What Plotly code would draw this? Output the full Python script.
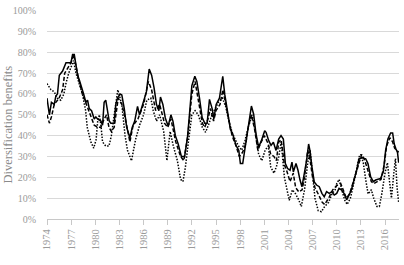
import plotly.graph_objects as go

# --- data (year, diversification benefit in %) ---
solid_years = [1974.0, 1974.3, 1974.55, 1974.9, 1975.1, 1975.3, 1975.53, 1975.94, 1976.36, 1976.77, 1976.98,
               1977.18, 1977.39, 1977.6, 1977.8, 1978.0, 1978.2, 1978.55, 1978.83, 1979.04, 1979.25, 1979.54,
               1979.87, 1980.07, 1980.28, 1980.7, 1980.9, 1981.1, 1981.3, 1981.5, 1981.73, 1981.93, 1982.35,
               1982.55, 1982.76, 1983.09, 1983.3, 1983.6, 1983.9, 1984.3, 1984.6, 1984.9, 1985.25, 1985.5,
               1985.95, 1986.35, 1986.7, 1987.0, 1987.3, 1987.6, 1987.9, 1988.1, 1988.4, 1988.7, 1989.05,
               1989.4, 1989.65, 1989.95, 1990.3, 1990.7, 1991.1, 1991.45, 1991.7, 1992.0, 1992.37, 1992.62,
               1992.95, 1993.28, 1993.6, 1993.9, 1994.19, 1994.52, 1994.73, 1995.02, 1995.43, 1995.84,
               1996.09, 1996.38, 1996.79, 1997.08, 1997.5, 1997.83, 1998.03, 1998.32, 1998.65, 1998.98,
               1999.4, 1999.68, 1999.97, 2000.3, 2000.64, 2001.05, 2001.22, 2001.55, 2001.84, 2002.13,
               2002.46, 2002.79, 2003.08, 2003.37, 2003.62, 2003.9, 2004.2, 2004.44, 2004.61, 2004.94,
               2005.19, 2005.44, 2005.68, 2005.97, 2006.26, 2006.51, 2006.67, 2006.92, 2007.21, 2007.5,
               2007.83, 2008.16, 2008.45, 2008.74, 2009.07, 2009.4, 2009.69, 2010.0, 2010.29, 2010.58,
               2010.91, 2011.24, 2011.53, 2011.82, 2012.15, 2012.48, 2012.77, 2013.18, 2013.6, 2013.88,
               2014.22, 2014.55, 2014.84, 2015.13, 2015.46, 2015.79, 2016.08, 2016.36, 2016.7, 2016.95,
               2017.15, 2017.35, 2017.55, 2017.7]
solid_vals = [58, 50, 56, 55, 59, 60, 69, 71, 75, 75, 75,
              79, 79, 74, 69, 67, 64, 60, 56, 57, 53, 52,
              48, 49, 48, 47, 45, 56, 57, 53, 47, 46, 46,
              55, 58, 60, 59.5, 53, 44, 39, 44, 47, 54, 50,
              56, 61, 72, 69, 63, 55, 52, 58.5, 55, 48.5, 44.6,
              50, 47, 40, 36, 30, 30, 39, 50, 64, 68.5, 66,
              58, 48.7, 46, 46, 57.4, 53, 48, 55, 58, 68.5,
              59.8, 53.4, 43, 40.8, 35.2, 33, 26.6, 26.6, 35.2, 45.5,
              54.2, 50.3, 40.8, 34.5, 37.6, 42.4, 41.6, 37.6, 35.3, 36.8,
              32.9, 38.4, 40, 38.4, 26.6, 24.2, 23.4, 27.3, 22.6, 26.6,
              23.4, 18.7, 15.5, 21.8, 28.1, 36, 32.9, 25, 17.8, 16.3,
              15.5, 12.3, 10.7, 13.1, 12.3, 13.1, 11.5, 12.3, 14.7, 14,
              12.3, 9.2, 11.5, 13.9, 18.7, 23.4, 28.9, 29.4, 28.9, 26.6,
              20.2, 17.9, 18.7, 19, 19.5, 22.6, 32.9, 38.4, 41.3, 41.3,
              36, 33.7, 32, 27]

dash_years = [1974.0, 1974.3, 1974.55, 1974.9, 1975.5, 1975.94, 1976.2, 1976.55, 1976.98, 1977.3, 1977.67,
              1978.0, 1978.4, 1978.8, 1979.25, 1979.66, 1979.87, 1980.3, 1980.7, 1981.1, 1981.4, 1981.7,
              1982.0, 1982.35, 1982.6, 1982.85, 1983.3, 1983.8, 1984.3, 1984.7, 1985.3, 1986.0, 1986.6,
              1987.0, 1987.5, 1988.0, 1988.6, 1989.0, 1989.4, 1990.0, 1990.6, 1991.0, 1991.5, 1992.0,
              1992.4, 1992.9, 1993.3, 1993.6, 1994.0, 1994.3, 1994.7, 1995.0, 1995.5, 1995.85, 1996.2,
              1996.6, 1997.0, 1997.5, 1997.9, 1998.3, 1998.7, 1999.0, 1999.4, 1999.8, 2000.2, 2000.5,
              2001.0, 2001.5, 2001.8, 2002.2, 2002.5, 2002.8, 2003.1, 2003.5, 2003.8, 2004.2, 2004.6,
              2004.9, 2005.3, 2005.7, 2006.0, 2006.4, 2006.7, 2007.0, 2007.3, 2007.7, 2008.2, 2008.5,
              2009.0, 2009.5, 2010.0, 2010.5, 2010.9, 2011.2, 2011.6, 2012.0, 2012.4, 2012.8, 2013.1,
              2013.5, 2013.9, 2014.3, 2014.6, 2015.0, 2015.5, 2015.9, 2016.2, 2016.6, 2016.95, 2017.2,
              2017.45, 2017.7]
dash_vals = [50, 46, 49, 55, 58, 62, 70, 72, 75, 79, 72,
             66, 60, 56, 52, 48, 45, 44, 44, 48, 50, 44,
             42, 44, 52, 58, 55, 47, 37, 45, 48, 55, 66,
             62, 52, 55, 46, 44, 48, 37, 30, 28, 40, 60,
             66, 55, 46, 44, 48, 53, 47, 52, 55, 62, 55,
             47, 40, 35, 30, 32, 36, 44, 50, 43, 33, 36,
             40, 36, 31, 30, 28, 37, 38, 26, 23, 18, 22,
             15, 13, 14, 20, 33, 28, 20, 15, 12, 8, 7,
             10, 14, 16, 17, 13, 10, 12, 17, 22, 27, 31,
             28, 23, 18, 17, 18, 19, 26, 35, 39, 37, 34,
             33, 32]

dot_years = [1974.0, 1974.5, 1974.9, 1975.3, 1975.7, 1976.1, 1976.35, 1976.7, 1977.1, 1977.3, 1977.6,
             1978.0, 1978.4, 1978.8, 1979.0, 1979.45, 1979.8, 1980.1, 1980.3, 1980.5, 1980.7, 1980.9,
             1981.3, 1981.7, 1982.0, 1982.35, 1982.8, 1983.3, 1983.7, 1984.0, 1984.5, 1985.0, 1985.5,
             1986.0, 1986.4, 1986.9, 1987.2, 1987.6, 1988.0, 1988.5, 1988.9, 1989.3, 1989.7, 1990.2,
             1990.6, 1990.9, 1991.2, 1991.6, 1992.0, 1992.4, 1992.8, 1993.3, 1993.7, 1994.1, 1994.5,
             1994.9, 1995.3, 1995.8, 1996.2, 1996.6, 1997.0, 1997.4, 1997.8, 1998.2, 1998.6, 1999.0,
             1999.5, 1999.9, 2000.3, 2000.7, 2001.1, 2001.5, 2001.8, 2002.2, 2002.5, 2002.8, 2003.1,
             2003.5, 2003.8, 2004.1, 2004.5, 2004.9, 2005.3, 2005.6, 2006.0, 2006.4, 2006.7, 2007.0,
             2007.3, 2007.7, 2008.1, 2008.5, 2009.0, 2009.4, 2009.8, 2010.0, 2010.3, 2010.7, 2011.0,
             2011.3, 2011.7, 2012.0, 2012.4, 2012.8, 2013.0, 2013.3, 2013.6, 2013.9, 2014.3, 2014.6,
             2015.0, 2015.3, 2015.6, 2016.0, 2016.3, 2016.5, 2016.8, 2017.1, 2017.3, 2017.5, 2017.7]
dot_vals = [65, 62, 61, 58, 57, 60, 65, 70, 74, 76, 70,
            65, 60, 52, 44, 37, 34, 38, 47, 50, 45, 37,
            35, 35, 40, 50, 62, 55, 40, 33, 28, 38, 45,
            50, 57, 58, 52, 47, 50, 42, 28, 42, 35, 28,
            19, 18, 25, 38, 50, 52, 50, 44, 41.6, 45.5, 50,
            53, 56, 58, 54, 47, 41.6, 38, 35, 33, 37.6, 44,
            50, 41.6, 31, 28, 33, 35, 25, 22, 25, 30, 37,
            20, 14, 9, 14, 12, 9, 6, 14, 27, 33, 22,
            10, 4, 3.5, 6, 8, 12, 14, 17, 19, 13, 9,
            7, 10, 15, 22, 30, 31, 27, 19, 12, 14, 10,
            6, 6, 12, 22, 27, 20, 10, 22, 29, 15, 8]

y_ticks = [0, 10, 20, 30, 40, 50, 60, 70, 80, 90, 100]
x_ticks = [1974, 1977, 1980, 1983, 1986, 1989, 1992, 1995, 1998, 2001, 2004, 2007, 2010, 2013, 2016]
y_title = "Diversification benefits"

FONT = "Liberation Serif"
GREY = "#9a9a9a"

fig = go.Figure()
fig.add_trace(go.Scatter(x=dot_years, y=dot_vals, mode="lines",
                         line=dict(color="black", width=1.5, dash="1.5px,1.5px")))
fig.add_trace(go.Scatter(x=dash_years, y=dash_vals, mode="lines",
                         line=dict(color="black", width=1.5, dash="4px,2px")))
fig.add_trace(go.Scatter(x=solid_years, y=solid_vals, mode="lines",
                         line=dict(color="black", width=1.5)))

fig.update_layout(
    width=404, height=265,
    margin=dict(l=47, r=5, t=8, b=46),
    paper_bgcolor="white", plot_bgcolor="white",
    showlegend=False,
    font=dict(family=FONT, color=GREY),
    xaxis=dict(range=[1974, 2017.74], tickvals=x_ticks, ticktext=[str(t) for t in x_ticks],
               tickangle=-90, tickfont=dict(size=10.5, family=FONT, color=GREY),
               showgrid=False, zeroline=False, showline=True, linecolor="#c8c8c8", linewidth=1,
               ticks="outside", ticklen=5, tickcolor="#c8c8c8", tickwidth=1),
    yaxis=dict(range=[0, 100.3], tickvals=y_ticks, ticktext=[f"{t}%" for t in y_ticks],
               tickfont=dict(size=10, family=FONT, color=GREY),
               showgrid=True, gridcolor="#d9d9d9", gridwidth=1.2, zeroline=False,
               showline=False, ticks="", ticklabelstandoff=10),
    annotations=[dict(text=y_title, xref="paper", yref="paper", x=-0.111, y=0.452,
                      xanchor="center", yanchor="middle", textangle=-90, showarrow=False,
                      font=dict(size=12.5, family=FONT, color="#8a8a8a"))],
)

fig.write_html("out.html")
